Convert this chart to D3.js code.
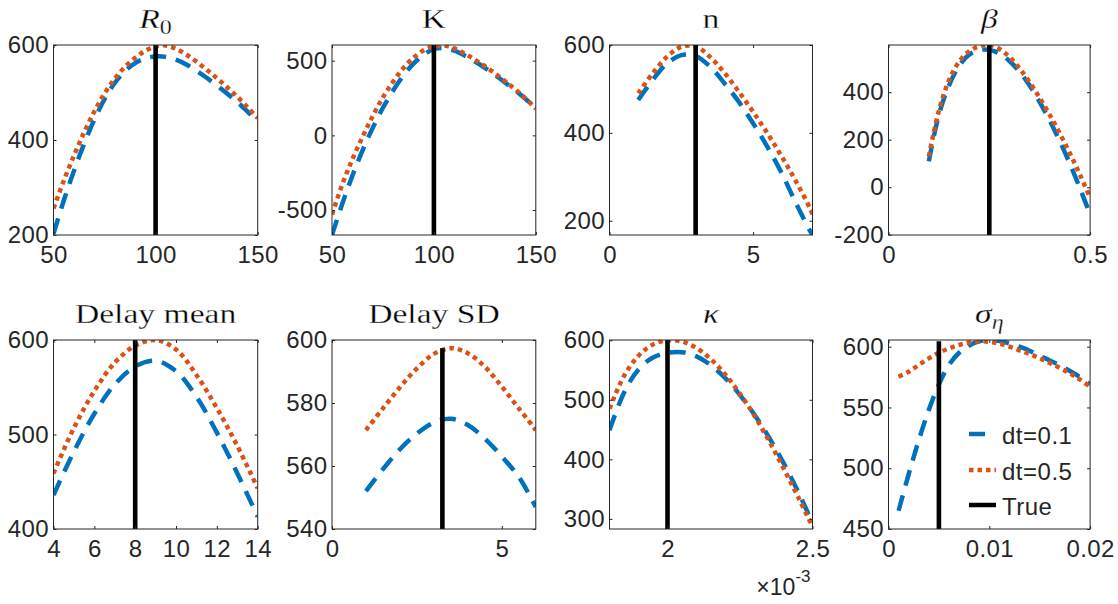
<!DOCTYPE html>
<html><head><meta charset="utf-8">
<script src="https://cdn.jsdelivr.net/npm/d3@7"></script>
<style>body{margin:0;background:#fff}</style>
</head><body><svg id="c" width="1118" height="604"></svg>
<script>
// ---------- data ----------
const r0X = [50,55,60,65,70,75,80,85,90,95,100,105,110,115,120,125,130,135,140,145,150];
const r0Dt01 = [203,272,335,392,443,486,520,545,562,572,576,575,569,559,546,531,515,498,480,460,439];
const r0Dt05 = [256,314,367,416,460,498,529,554,573,588,597,599,592,580,565,548,530,511,491,469,446];

const kX = [50,55,60,65,70,75,80,85,90,95,100,105,110,115,120,125,130,135,140,145,150];
const kDt01 = [-667,-460,-270,-100,50,185,300,400,480,540,578,585,568,535,496,452,404,353,300,243,185];
const kDt05 = [-530,-330,-160,-10,130,255,360,450,520,570,597,601,582,548,508,463,414,362,307,247,178];

const nX = [1,1.5,2,2.5,3,3.5,4,4.5,5,5.5,6,6.5,7,7.07];
const nDt01 = [475,520,558,577,575,551,513,471,422,368,308,239,175,167.5];
const nDt05 = [490,535,573,596,597,573,537,494,448,399,346,289,226,215];

const betaX = [0.1,0.125,0.15,0.175,0.2,0.225,0.25,0.275,0.3,0.325,0.35,0.375,0.4,0.425,0.45,0.475,0.5];
const betaDt01 = [109,305,428,510,558,577,578,563,531,486,428,358,280,193,98,-5,-115];
const betaDt05 = [130,322,450,528,572,593,598,582,548,500,442,376,304,226,142,52,-45];

const dmX = [4,5,6,7,8,9,10,11,12,13,14];
const dmDt01 = [436,482,522,553,572,578,567,540,502,459,413];
const dmDt05 = [459,507,546,576,594,600,590,563,528,488,443];

const dsdX = [1,1.5,2,2.5,3,3.5,4,4.5,5,5.5,6];
const dsdDt01 = [552,559,565.3,570.3,573.8,575,573,568.7,563,556.5,547];
const dsdDt05 = [571.4,578.3,585,591,595.6,597.4,595.8,591.5,585.2,578.3,571.4];

const kappaX = [0.0018,0.00185,0.0019,0.00195,0.002,0.00205,0.0021,0.00215,0.0022,0.00225,0.0023,0.00235,0.0024,0.00245,0.0025];
const kappaDt01 = [449,512,551,571,579,580,573,558,536,508,475,437,394,346,293];
const kappaDt05 = [485,540,574,593,600,598,587,568,542,510,473,431,385,337,287];

const sigmaX = [0.001,0.002,0.003,0.004,0.005,0.006,0.007,0.008,0.009,0.01,0.011,0.012,0.013,0.014,0.015,0.016,0.017,0.018,0.019,0.02];
const sigmaDt01 = [465,495,523,548,569,585,595,601,604.5,605.5,604.7,602.7,600,596.7,592.5,588.7,584.5,580,575,569];
const sigmaDt05 = [575.3,579.4,585,590.4,595,598.6,601.4,603.5,604.5,604,602.5,600,597,594,590.4,586.5,582.5,578,573,567];

const trueValues = [100, 100, 3, 0.25, 8, 3.25, 0.002, 0.005];
const trueLineTop = [600, 605, 600, 598.5, 600, 597.4, 600.5, 604.5];

const xDomains = [[50,150],[50,150],[0,7.07],[0,0.5],[4,14],[0,6],[0.0018,0.0025],[0,0.02]];
const yDomains = [[200,600],[-667,605],[167.5,600],[-201,598.5],[400,600],[540,600],[283,600.5],[450,605.5]];

const xTicks = [[50,100,150],[50,100,150],[0,5],[0,0.5],[4,6,8,10,12,14],[0,5],[0.002,0.0025],[0,0.01,0.02]];
const xTickLabels = [["50","100","150"],["50","100","150"],["0","5"],["0","0.5"],["4","6","8","10","12","14"],["0","5"],["2","2.5"],["0","0.01","0.02"]];
const yTicks = [[200,400,600],[-500,0,500],[200,400,600],[-200,0,200,400],[400,500,600],[540,560,580,600],[300,400,500,600],[450,500,550,600]];
const yTickLabels = [["200","400","600"],["-500","0","500"],["200","400","600"],["-200","0","200","400"],["400","500","600"],["540","560","580","600"],["300","400","500","600"],["450","500","550","600"]];

const titles = [
  [{t:"R",i:true},{t:"0",sub:true}],
  [{t:"K"}],
  [{t:"n"}],
  [{t:"β",i:true}],
  [{t:"Delay mean"}],
  [{t:"Delay SD"}],
  [{t:"κ",i:true}],
  [{t:"σ",i:true},{t:"η",i:true,sub:true}]
];
const seriesNames = ["dt=0.1","dt=0.5","True"];
const exponentLabel = ["×10","-3"];

const panelX = [r0X,kX,nX,betaX,dmX,dsdX,kappaX,sigmaX];
const panelDt01 = [r0Dt01,kDt01,nDt01,betaDt01,dmDt01,dsdDt01,kappaDt01,sigmaDt01];
const panelDt05 = [r0Dt05,kDt05,nDt05,betaDt05,dmDt05,dsdDt05,kappaDt05,sigmaDt05];

// ---------- layout ----------
const colLeft = [53.5, 332, 609.5, 888.5];
const colWidth = [204.2, 203.8, 203, 201.6];
const rowTop = [45, 340];
const rowHeight = [190, 189];
const BLUE = "#0072BD", ORANGE = "#D95319", AX = "#262626";
const SANS = "'Liberation Sans', Arial, sans-serif";
const SERIF = "'Liberation Serif', 'Times New Roman', serif";

const svg = d3.select("#c");
svg.append("rect").attr("width",1118).attr("height",604).attr("fill","#fff");

for (let p = 0; p < 8; p++) {
  const col = p % 4, row = Math.floor(p / 4);
  const L = colLeft[col], T = rowTop[row], W = colWidth[col], H = rowHeight[row];
  const x = d3.scaleLinear().domain(xDomains[p]).range([0, W]);
  const y = d3.scaleLinear().domain(yDomains[p]).range([H, 0]);
  const g = svg.append("g").attr("transform", `translate(${L},${T})`);

  const clipId = "clip" + p;
  g.append("clipPath").attr("id", clipId).append("rect").attr("width", W).attr("height", H);
  const plot = g.append("g").attr("clip-path", `url(#${clipId})`);

  const line = d3.line().x((d,i)=>x(panelX[p][i])).y(d=>y(d)).curve(d3.curveCatmullRom.alpha(0.5));
  plot.append("path").datum(panelDt01[p]).attr("d", line)
    .attr("fill","none").attr("stroke",BLUE).attr("stroke-width",4.5)
    .attr("stroke-dasharray","16,10");
  plot.append("path").datum(panelDt05[p]).attr("d", line)
    .attr("fill","none").attr("stroke",ORANGE).attr("stroke-width",4.5)
    .attr("stroke-dasharray","4.5,4");
  plot.append("line")
    .attr("x1", x(trueValues[p])).attr("x2", x(trueValues[p]))
    .attr("y1", y(yDomains[p][0])).attr("y2", y(trueLineTop[p]))
    .attr("stroke","#000").attr("stroke-width",4.6);

  // axes
  const xl = xTickLabels[p], yl = yTickLabels[p];
  const axB = d3.axisBottom(x).tickValues(xTicks[p]).tickFormat((d,i)=>xl[i]).tickSizeInner(-3).tickSizeOuter(0).tickPadding(11);
  const axT = d3.axisTop(x).tickValues(xTicks[p]).tickFormat("").tickSizeInner(-3).tickSizeOuter(0);
  const axL = d3.axisLeft(y).tickValues(yTicks[p]).tickFormat((d,i)=>yl[i]).tickSizeInner(-3).tickSizeOuter(0).tickPadding(4.5);
  const axR = d3.axisRight(y).tickValues(yTicks[p]).tickFormat("").tickSizeInner(-3).tickSizeOuter(0);
  const gb = g.append("g").attr("transform",`translate(0,${H})`).call(axB);
  const gt = g.append("g").call(axT);
  const gl = g.append("g").call(axL);
  const gr = g.append("g").attr("transform",`translate(${W},0)`).call(axR);
  [gb,gt,gl,gr].forEach(a=>{
    a.select(".domain").remove();
    a.selectAll("line").attr("stroke",AX).attr("stroke-width",1);
    a.selectAll("text").attr("fill",AX).style("font-family",SANS).style("font-size","24px")
      .style("letter-spacing","0.4px");
  });
  g.append("rect").attr("width",W).attr("height",H).attr("fill","none").attr("stroke",AX).attr("stroke-width",1);

  // title
  const tt = g.append("text")
    .attr("transform", `translate(${W/2},-17) scale(1.2,1)`)
    .attr("text-anchor","middle").style("font-family",SERIF).style("font-size","28px")
    .style("font-weight","normal").attr("fill","#000")
    .attr("stroke","#fff").attr("stroke-width",0.3).style("paint-order","fill");
  titles[p].forEach(part=>{
    const s = tt.append("tspan").text(part.t);
    if (part.i) s.style("font-style","italic");
    if (part.sub) s.style("font-size","20px").attr("dy", 5.5);
  });

  // exponent label for kappa
  if (p === 6) {
    const ex = g.append("text").attr("x", W - 2).attr("y", H + 66)
      .attr("text-anchor","end").style("font-family",SANS).attr("fill",AX);
    ex.append("tspan").text(exponentLabel[0]).style("font-size","23px");
    ex.append("tspan").text(exponentLabel[1]).style("font-size","17px").attr("dy",-13);
  }

  // legend in last panel
  if (p === 7) {
    const lg = svg.append("g");
    const rowsY = [434, 470, 505];
    const styles = [
      {c:BLUE, da:"16,12"}, {c:ORANGE, da:"4.5,4"}, {c:"#000", da:null}
    ];
    seriesNames.forEach((nm,i)=>{
      const ln = lg.append("line").attr("x1",969).attr("x2",996).attr("y1",rowsY[i]).attr("y2",rowsY[i])
        .attr("stroke",styles[i].c).attr("stroke-width",4.5);
      if (styles[i].da) ln.attr("stroke-dasharray",styles[i].da);
      lg.append("text").attr("x",1002).attr("y",rowsY[i]+10).text(nm)
        .style("font-family",SANS).style("font-size","24px").style("letter-spacing","0.5px").attr("fill",AX);
    });
  }
}
</script></body></html>
